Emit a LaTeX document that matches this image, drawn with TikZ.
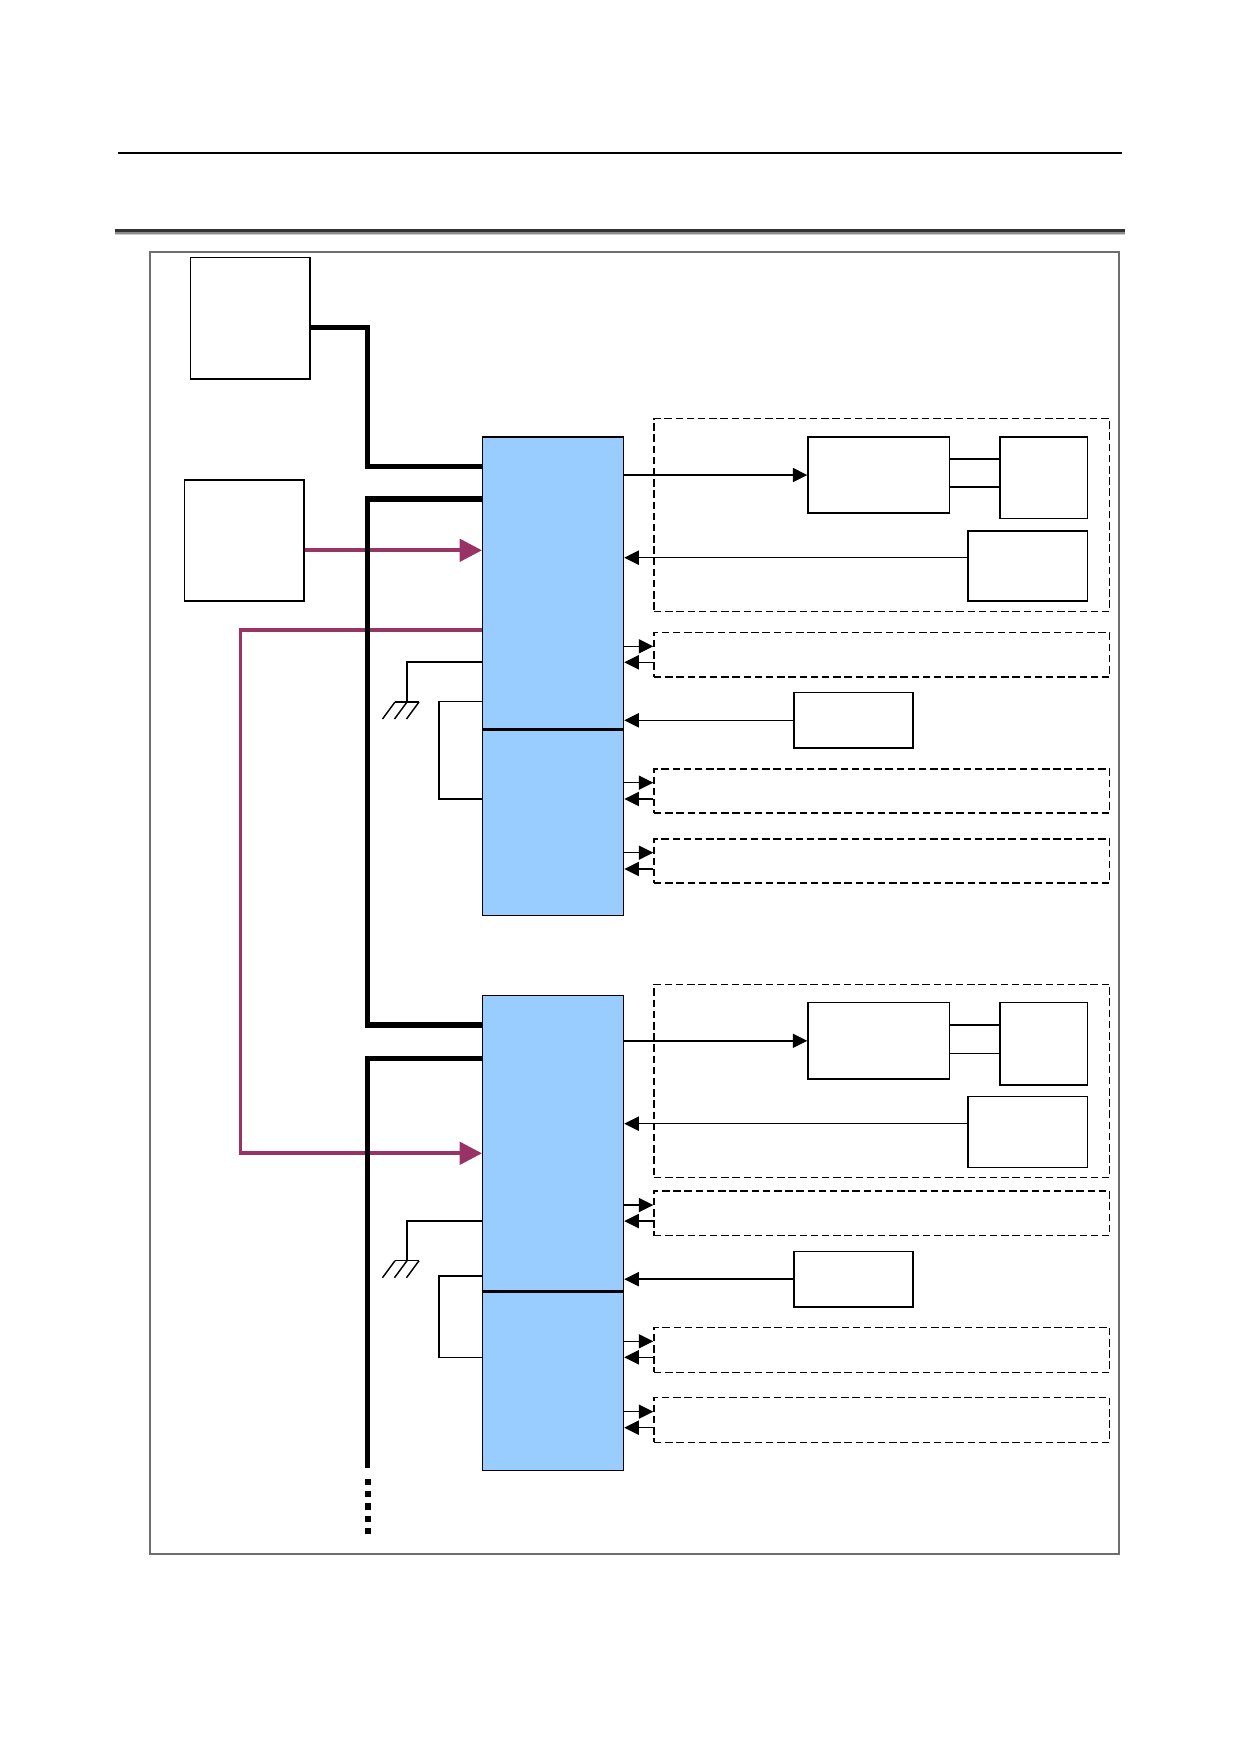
\documentclass[tikz,border=0pt]{standalone}
\usepackage{tikz}
\usetikzlibrary{arrows.meta,positioning,calc}
\definecolor{ctlblue}{HTML}{99CCFF}
\definecolor{plum}{HTML}{993366}
\definecolor{framegray}{HTML}{6E6E6E}

\begin{document}
\begin{tikzpicture}[x=0.1695mm,y=-0.1695mm,line width=0.7pt,
  box/.style 2 args={draw,rectangle,inner sep=0pt,
    minimum width=#1*0.1695mm,minimum height=#2*0.1695mm},
  ctl/.style={fill=ctlblue},
  grp/.style={dash pattern=on 3.6pt off 1.8pt},
  bus/.style={line width=2.5pt},
  sig/.style={-{Triangle[length=7pt,width=6.8pt]}},
  cmd/.style={draw=plum,line width=1.9pt,-{Triangle[length=10.8pt,width=10.8pt]}}]
\useasboundingbox (0,0) rectangle (1239,1754);

% header rules
\draw[line width=1pt] (118,152.7) -- (1122,152.7);
\draw[line width=1.3pt,draw=black!80] (115,230.3) -- (1125,230.3);
\draw[line width=1pt,draw=black!45] (115,232.8) -- (1125,232.8);
\draw[line width=0.8pt,draw=black!20] (115,234.6) -- (1125,234.6);
\draw[framegray,line width=0.6pt] (150,252) rectangle (1119,1554);

% sources on the left
\node[box={119.3}{121.3}] (srcA) at (250.4,318.4) {};
\node[box={119.3}{121}] (srcB) at (244.4,540.5) {};

% first unit
\node[box={140.8}{291.3},ctl] (ctlA) at (553.1,582.7) {};
\node[box={140.8}{185.7},ctl,below=0pt of ctlA] (ctlAlow) {};
\node[box={455.7}{192.6},grp] (grpA) at (881.85,515) {};
\node[box={141.7}{76}] (drvA) at (878.85,475) {};
\node[box={87.7}{81.7}] (motA) at (1043.85,477.85) {};
\node[box={119.7}{70}] (encA) at (1027.85,566) {};
\node[box={119}{55.3}] (swA) at (853.5,720.35) {};
\node[box={455.7}{44.3},grp] (ioA1) at (881.85,654.85) {};
\node[box={455.7}{44},grp] (ioA2) at (881.85,791) {};
\node[box={455.7}{44},grp] (ioA3) at (881.85,861) {};

% second unit
\node[box={140.8}{295.7},ctl] (ctlB) at (553.1,1143.15) {};
\node[box={140.8}{178.3},ctl,below=0pt of ctlB] (ctlBlow) {};
\node[box={455.7}{193},grp] (grpB) at (881.85,1080.8) {};
\node[box={141.7}{76.3}] (drvB) at (878.85,1040.85) {};
\node[box={87.7}{82.3}] (motB) at (1043.85,1043.85) {};
\node[box={119.7}{70.6}] (encB) at (1027.85,1132) {};
\node[box={119}{55.7}] (swB) at (853.5,1279.15) {};
\node[box={455.7}{44.7},grp] (ioB1) at (881.85,1213.35) {};
\node[box={455.7}{45},grp] (ioB2) at (881.85,1349.8) {};
\node[box={455.7}{44.6},grp] (ioB3) at (881.85,1420) {};

% command lines
\draw[cmd] ($(srcB.east)+(0,9.8)$) coordinate (m0) -- (m0 -| ctlA.west);
\coordinate (mA) at (240.5,630);
\coordinate (mB) at (240.5,1153.3);
\draw[cmd] (mA -| ctlA.west) -- (mA) -- (mB) -- (mB -| ctlB.west);

% bus
\coordinate (tapA) at (367.7,466.7);
\coordinate (tapB) at (367.7,499);
\coordinate (tapC) at (367.7,1025);
\coordinate (tapD) at (367.7,1058.7);
\coordinate (busEnd) at (367.7,1468);
\draw[bus] ($(srcA.east)+(0,8.9)$) -| (tapA) -- (tapA -| ctlA.west);
\draw[bus] (tapB -| ctlA.west) -- (tapB) -- (tapC) -- (tapC -| ctlB.west);
\draw[bus] (tapD -| ctlB.west) -- (tapD) -- (busEnd);
\draw[line width=2.9pt,dash pattern=on 2.9pt off 3pt] ($(busEnd)+(0,11)$) -- ++(0,60);

% first unit, left wiring
\coordinate (gndA) at (407,702);
\draw ($(ctlA.west)+(0,79.3)$) -| (gndA);
\draw ($(gndA)+(-12,0)$) -- ++(24,0);
\foreach \dx in {-12,0,12} \draw ($(gndA)+(\dx,0)$) -- ++(-12.5,17);
\coordinate (lpA) at (439,799);
\draw ($(ctlA.west)+(0,119)$) -| (lpA) -- (lpA -| ctlAlow.west);

% first unit, right wiring
\draw[sig] (drvA.west -| ctlA.east) -- (drvA.west);
\draw ($(drvA.east)+(0,-16)$) coordinate (k1) -- (k1 -| motA.west);
\draw ($(drvA.east)+(0,12)$) coordinate (k2) -- (k2 -| motA.west);
\draw[sig] ($(encA.west)+(0,-8.3)$) coordinate (e1) -- (e1 -| ctlA.east);
\draw[sig] (swA.west) -- (swA.west -| ctlA.east);
\draw[sig] ($(ioA1.west)+(0,-8.5)$) coordinate (q) (q -| ctlA.east) -- (q);
\draw[sig] ($(ioA1.west)+(0,7.5)$) coordinate (q) -- (q -| ctlA.east);
\draw[sig] ($(ioA2.west)+(0,-8.3)$) coordinate (q) (q -| ctlAlow.east) -- (q);
\draw[sig] ($(ioA2.west)+(0,8)$) coordinate (q) -- (q -| ctlAlow.east);
\draw[sig] ($(ioA3.west)+(0,-8.3)$) coordinate (q) (q -| ctlAlow.east) -- (q);
\draw[sig] ($(ioA3.west)+(0,8)$) coordinate (q) -- (q -| ctlAlow.east);

% second unit, left wiring
\coordinate (gndB) at (407,1260.7);
\draw ($(ctlB.west)+(0,77.85)$) -| (gndB);
\draw ($(gndB)+(-12,0)$) -- ++(24,0);
\foreach \dx in {-12,0,12} \draw ($(gndB)+(\dx,0)$) -- ++(-12.5,17);
\coordinate (lpB) at (439,1357.3);
\draw ($(ctlB.west)+(0,132.85)$) -| (lpB) -- (lpB -| ctlBlow.west);

% second unit, right wiring
\draw[sig] (drvB.west -| ctlB.east) -- (drvB.west);
\draw ($(drvB.east)+(0,-15.85)$) coordinate (k1) -- (k1 -| motB.west);
\draw ($(drvB.east)+(0,12.85)$) coordinate (k2) -- (k2 -| motB.west);
\draw[sig] ($(encB.west)+(0,-8.3)$) coordinate (e1) -- (e1 -| ctlB.east);
\draw[sig] (swB.west) -- (swB.west -| ctlB.east);
\draw[sig] ($(ioB1.west)+(0,-8.3)$) coordinate (q) (q -| ctlB.east) -- (q);
\draw[sig] ($(ioB1.west)+(0,7.7)$) coordinate (q) -- (q -| ctlB.east);
\draw[sig] ($(ioB2.west)+(0,-8.5)$) coordinate (q) (q -| ctlBlow.east) -- (q);
\draw[sig] ($(ioB2.west)+(0,7.5)$) coordinate (q) -- (q -| ctlBlow.east);
\draw[sig] ($(ioB3.west)+(0,-8.3)$) coordinate (q) (q -| ctlBlow.east) -- (q);
\draw[sig] ($(ioB3.west)+(0,7.7)$) coordinate (q) -- (q -| ctlBlow.east);
\end{tikzpicture}
\end{document}
